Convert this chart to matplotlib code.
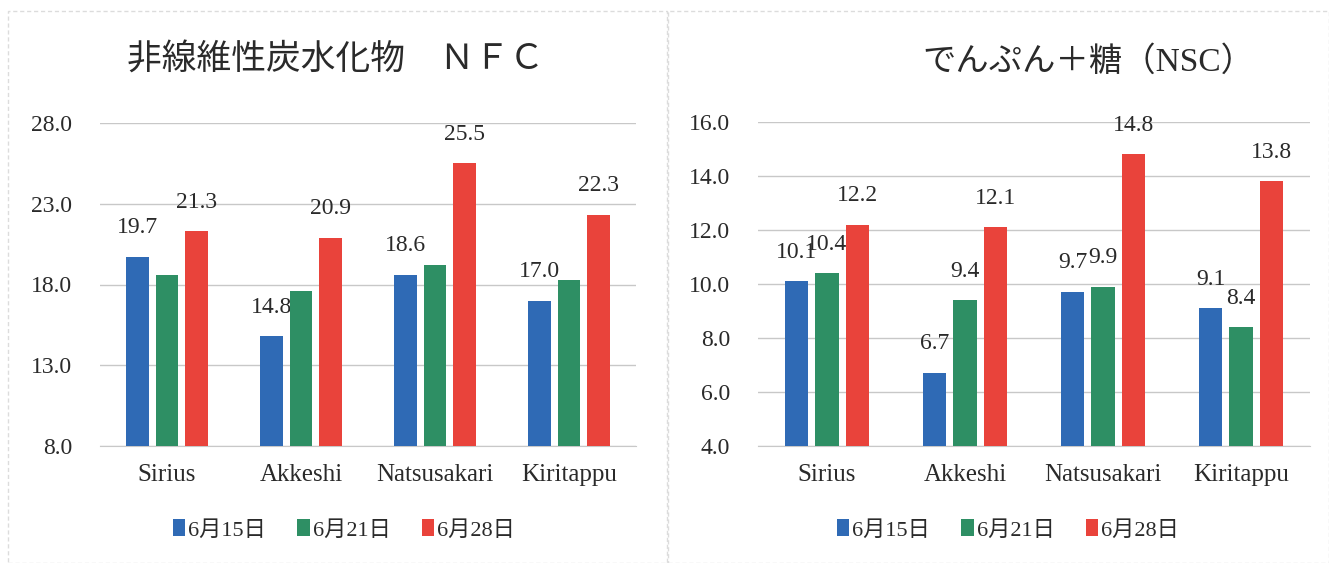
import numpy as np
import matplotlib
matplotlib.use("Agg")
import matplotlib.pyplot as plt
from matplotlib.patches import Rectangle

plt.rcParams['font.family'] = ['Liberation Serif', 'Noto Sans CJK JP']

# ─── Data ──────────────────────────────────────────────────────────────────────

varieties = ["Sirius", "Akkeshi", "Natsusakari", "Kiritappu"]
dates = ["6月15日", "6月21日", "6月28日"]

nfc_0615 = [19.7, 14.8, 18.6, 17.0]
nfc_0621 = [18.6, 17.6, 19.2, 18.3]
nfc_0628 = [21.3, 20.9, 25.5, 22.3]

nsc_0615 = [10.1, 6.7, 9.7, 9.1]
nsc_0621 = [10.4, 9.4, 9.9, 8.4]
nsc_0628 = [12.2, 12.1, 14.8, 13.8]

nfc_ticks = [8.0, 13.0, 18.0, 23.0, 28.0]
nsc_ticks = [4.0, 6.0, 8.0, 10.0, 12.0, 14.0, 16.0]

COLORS = ["#2f6ab5", "#2e8f64", "#e9433b"]
GRID = "#c8c8c8"
TEXT = "#2a2a2a"

# ─── Figure ────────────────────────────────────────────────────────────────────

fig = plt.figure(figsize=(13.29, 5.63), dpi=100)
fig.patch.set_facecolor("white")

# panel frames
for x0, x1 in [(8, 667), (668, 1329)]:
    fig.add_artist(Rectangle((x0 / 1329, 0), (x1 - x0) / 1329, 1 - 11 / 563,
                             transform=fig.transFigure, fill=False,
                             edgecolor="#dcdcdc", linewidth=1.0,
                             linestyle=(0, (3, 2))))


def draw_panel(ax, series, ticks, labelled):
    x = np.arange(len(varieties))
    width = 0.17
    step = 0.22
    for i, (vals, col) in enumerate(zip(series, COLORS)):
        bars = ax.bar(x + (i - 1) * step, vals, width, color=col, zorder=3,
                      label=dates[i])
        if labelled[i]:
            # labels sit under the bars, so a taller neighbour may hide part
            for b, v in zip(bars, vals):
                ax.annotate(f"{v:.1f}", (b.get_x() + b.get_width() / 2, v),
                            xytext=(0, 21), textcoords="offset points",
                            ha="center", va="center", fontsize=17,
                            color=TEXT, zorder=2)
    ax.set_xlim(-0.5, len(varieties) - 0.5)
    ax.set_ylim(ticks[0], ticks[-1])
    ax.set_yticks(ticks)
    ax.set_yticklabels([f"{t:.1f}" for t in ticks])
    ax.set_xticks(x)
    ax.set_xticklabels(varieties)
    ax.yaxis.grid(True, color=GRID, linewidth=1.0, zorder=0)
    ax.set_axisbelow(True)
    for s in ["top", "right", "left"]:
        ax.spines[s].set_visible(False)
    ax.spines["bottom"].set_color(GRID)
    ax.tick_params(axis="y", length=0, pad=20, labelsize=17, labelcolor=TEXT)
    ax.tick_params(axis="x", length=0, pad=13, labelsize=18, labelcolor=TEXT)
    ax.set_facecolor("none")


ax1 = fig.add_axes([100 / 1329, 1 - 446 / 563, 536 / 1329, 323 / 563])
draw_panel(ax1, [nfc_0615, nfc_0621, nfc_0628], nfc_ticks, [True, False, True])

ax2 = fig.add_axes([758 / 1329, 1 - 446 / 563, 552 / 1329, 324 / 563])
draw_panel(ax2, [nsc_0615, nsc_0621, nsc_0628], nsc_ticks, [True, True, True])

fig.text(335 / 1329, 1 - 60 / 563, "非線維性炭水化物　ＮＦＣ", ha="center",
         va="center", fontsize=25, color=TEXT)
fig.text(1088 / 1329, 1 - 62 / 563, "でんぷん＋糖（NSC）", ha="center",
         va="center", fontsize=24, color=TEXT)

for ax, cx in [(ax1, 344), (ax2, 1008)]:
    handles, labels = ax.get_legend_handles_labels()
    fig.legend(handles, labels, loc="center", bbox_to_anchor=(cx / 1329, 1 - 530 / 563),
               ncol=3, frameon=False, fontsize=16, handlelength=0.55,
               handleheight=0.8, handletextpad=0.15, columnspacing=1.4,
               labelcolor=TEXT)

fig.savefig("out.png", dpi=100)
